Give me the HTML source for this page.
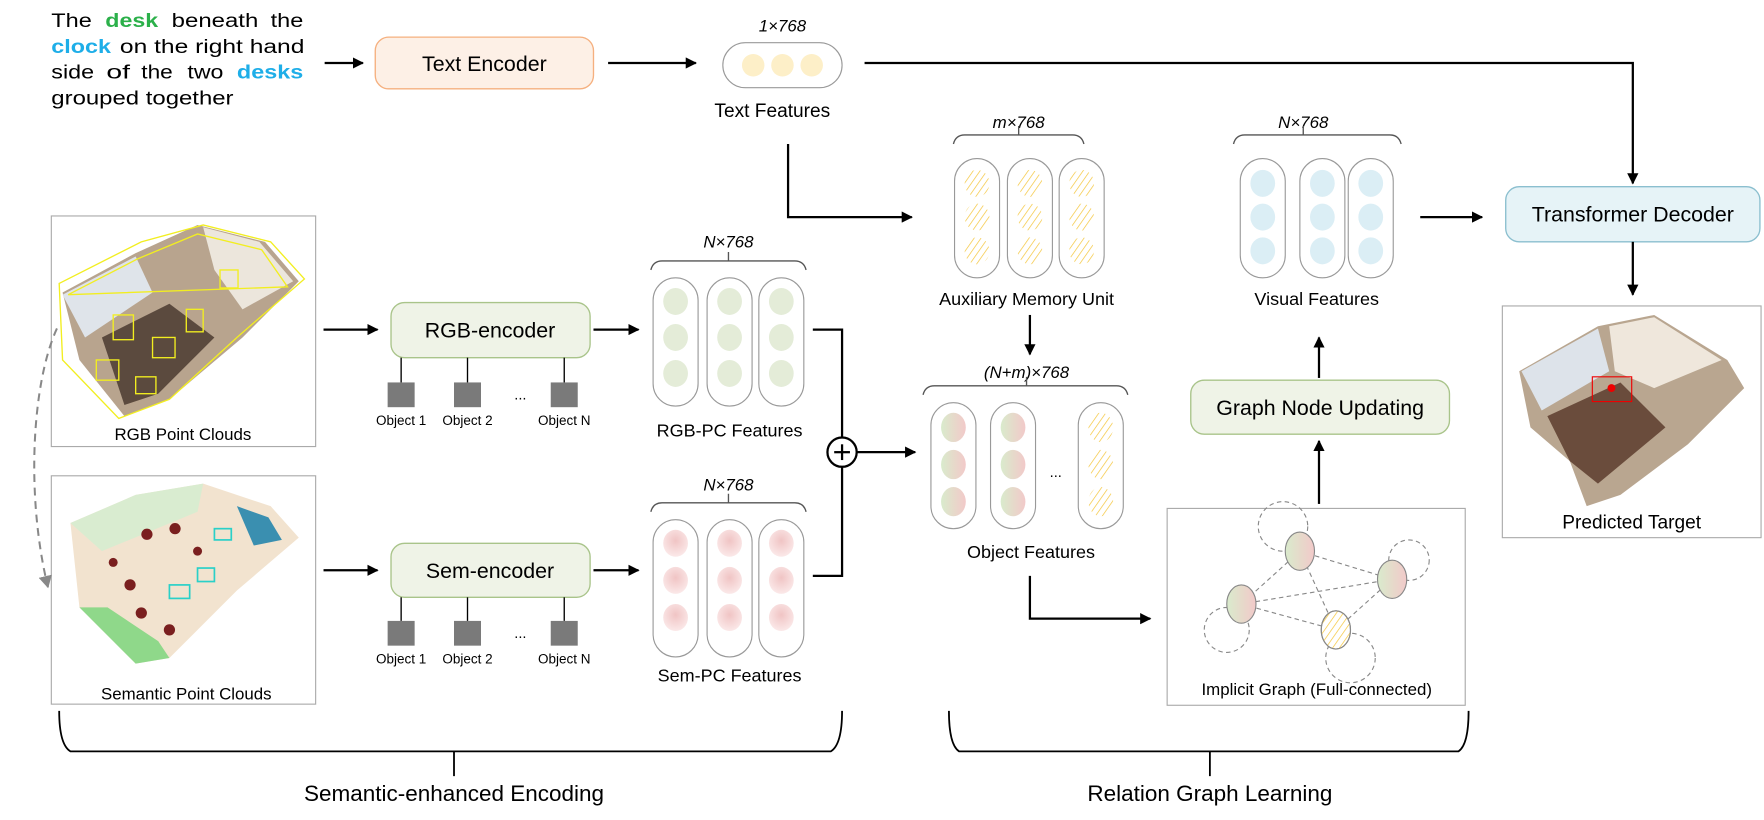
<!DOCTYPE html>
<html><head><meta charset="utf-8"><style>
html,body{margin:0;padding:0;background:#fff}
svg{display:block}
text{font-family:"Liberation Sans",Arial,sans-serif;fill:#000}
.it{font-style:italic}
</style></head><body>
<svg width="1764" height="820" viewBox="0 0 1567 729" xmlns="http://www.w3.org/2000/svg">
<defs>
<marker id="ah" markerWidth="10" markerHeight="10" refX="9" refY="5" orient="auto" markerUnits="userSpaceOnUse"><path d="M0,0 L10,5 L0,10 Z" fill="#000"/></marker>
<marker id="ahg" markerWidth="12" markerHeight="12" refX="10" refY="6" orient="auto" markerUnits="userSpaceOnUse"><path d="M0,0 L11,6 L0,12 Z" fill="#888"/></marker>
<pattern id="hatch" width="5" height="5" patternUnits="userSpaceOnUse" patternTransform="rotate(35)"><line x1="0" y1="0" x2="0" y2="5" stroke="#f5c842" stroke-width="1.3"/></pattern>
<linearGradient id="gr" x1="0" y1="0" x2="1" y2="0"><stop offset="0" stop-color="#d9ebcc"/><stop offset="1" stop-color="#f2c9c9"/></linearGradient>
<radialGradient id="pk" cx="0.5" cy="0.4" r="0.6"><stop offset="0" stop-color="#f0c4c4"/><stop offset="1" stop-color="#fbe9e9"/></radialGradient>
</defs>

<!-- input text -->
<g font-size="17" lengthAdjust="spacingAndGlyphs">
<text x="45" y="24" textLength="36" lengthAdjust="spacingAndGlyphs">The</text>
<text x="93" y="24" textLength="47" lengthAdjust="spacingAndGlyphs" fill="#2bb04a" font-weight="bold" style="fill:#2bb04a">desk</text>
<text x="152" y="24" textLength="77" lengthAdjust="spacingAndGlyphs">beneath</text>
<text x="240" y="24" textLength="29" lengthAdjust="spacingAndGlyphs">the</text>
<text x="45" y="47" textLength="53" lengthAdjust="spacingAndGlyphs" font-weight="bold" style="fill:#1eaee8">clock</text>
<text x="106" y="47" textLength="164" lengthAdjust="spacingAndGlyphs">on the right hand</text>
<text x="45" y="70" textLength="38" lengthAdjust="spacingAndGlyphs">side</text>
<text x="94" y="70" textLength="21" lengthAdjust="spacingAndGlyphs">of</text>
<text x="125" y="70" textLength="28" lengthAdjust="spacingAndGlyphs">the</text>
<text x="166" y="70" textLength="32" lengthAdjust="spacingAndGlyphs">two</text>
<text x="210" y="70" textLength="59" lengthAdjust="spacingAndGlyphs" font-weight="bold" style="fill:#1eaee8">desks</text>
<text x="45" y="93" textLength="162" lengthAdjust="spacingAndGlyphs">grouped together</text>
</g>
<line x1="288" y1="56" x2="322" y2="56" stroke="#000" stroke-width="2" marker-end="url(#ah)"/>
<rect x="333" y="33" width="194" height="46" rx="12" fill="#fdf0e6" stroke="#f5b07f" stroke-width="1.2"/>
<text x="430" y="63" font-size="19" text-anchor="middle">Text Encoder</text>
<line x1="540" y1="56" x2="618" y2="56" stroke="#000" stroke-width="2" marker-end="url(#ah)"/>
<text x="695" y="28" font-size="15" class="it" text-anchor="middle">1×768</text>
<rect x="642" y="38" width="106" height="40" rx="20" fill="#fff" stroke="#999" stroke-width="1"/>
<circle cx="669" cy="58" r="10" fill="#fdefc8"/><circle cx="695" cy="58" r="10" fill="#fdefc8"/><circle cx="721" cy="58" r="10" fill="#fdefc8"/>
<text x="686" y="104" font-size="17" text-anchor="middle">Text Features</text>
<polyline points="768,56 1451,56 1451,163" fill="none" stroke="#000" stroke-width="2" marker-end="url(#ah)"/>

<polyline points="700,128 700,193 810,193" fill="none" stroke="#000" stroke-width="2" marker-end="url(#ah)"/>

<!-- Transformer decoder -->
<rect x="1338" y="166" width="226" height="49" rx="12" fill="#e6f3f7" stroke="#8bbfcf" stroke-width="1.2"/>
<text x="1451" y="197" font-size="19" text-anchor="middle">Transformer Decoder</text>
<line x1="1451" y1="215" x2="1451" y2="262" stroke="#000" stroke-width="2" marker-end="url(#ah)"/>

<!-- predicted target -->
<rect x="1335" y="272" width="230" height="206" fill="#fff" stroke="#aaa" stroke-width="1"/>
<polygon points="1350,330 1420,290 1470,280 1535,320 1550,345 1500,395 1440,440 1410,450 1395,410 1360,380" fill="#b9a690"/>
<polygon points="1352,330 1420,292 1430,330 1370,365" fill="#dde3ea"/>
<polygon points="1430,290 1470,282 1530,320 1470,345 1435,330" fill="#efe7dc"/>
<polygon points="1375,370 1440,340 1480,380 1420,430 1395,410" fill="#6a4c3c"/>
<rect x="1415" y="335" width="35" height="22" fill="none" stroke="#e00" stroke-width="1"/>
<circle cx="1432" cy="345" r="3.5" fill="#e00"/>
<text x="1450" y="470" font-size="17" text-anchor="middle">Predicted Target</text>

<!-- RGB point clouds -->
<rect x="45" y="192" width="235" height="205" fill="#fff" stroke="#aaa" stroke-width="1"/>
<polygon points="55,260 120,225 175,200 235,215 265,250 215,300 150,355 110,370 70,320" fill="#b8a48e"/>
<polygon points="55,262 120,228 135,260 75,300" fill="#dfe4ea"/>
<polygon points="180,202 230,215 260,250 215,275 190,240" fill="#ece6dc"/>
<polygon points="90,300 150,270 190,300 140,350 110,360" fill="#5b4a3e"/>
<g fill="none" stroke="#f2ee20" stroke-width="1.2">
<polygon points="52,252 125,215 180,200 240,215 270,248 210,300 150,355 105,372 55,320"/>
<polygon points="60,262 122,230 175,208 232,222 255,255"/>
<rect x="100" y="280" width="18" height="22"/><rect x="135" y="300" width="20" height="18"/><rect x="165" y="275" width="15" height="20"/><rect x="85" y="320" width="20" height="18"/><rect x="195" y="240" width="16" height="16"/><rect x="120" y="335" width="18" height="15"/>
</g>
<text x="162" y="391" font-size="15" text-anchor="middle">RGB Point Clouds</text>

<!-- Semantic point clouds -->
<rect x="45" y="423" width="235" height="203" fill="#fff" stroke="#aaa" stroke-width="1"/>
<polygon points="62,465 120,440 180,430 240,450 265,478 210,525 150,585 120,590 70,540" fill="#f2e3cf"/>
<polygon points="62,465 120,440 180,430 175,455 90,490" fill="#d9ecd0"/>
<polygon points="210,450 238,460 250,480 225,485" fill="#3a8fb0"/>
<polygon points="70,540 120,590 150,585 140,570 95,540" fill="#8fd88a"/>
<g fill="#7a1f1f"><circle cx="130" cy="475" r="5"/><circle cx="155" cy="470" r="5"/><circle cx="115" cy="520" r="5"/><circle cx="125" cy="545" r="5"/><circle cx="150" cy="560" r="5"/><circle cx="175" cy="490" r="4"/><circle cx="100" cy="500" r="4"/></g>
<g fill="none" stroke="#2ad0c8" stroke-width="1.5"><rect x="150" y="520" width="18" height="12"/><rect x="175" y="505" width="15" height="12"/><rect x="190" y="470" width="15" height="10"/></g>
<text x="165" y="622" font-size="15" text-anchor="middle">Semantic Point Clouds</text>

<path d="M50,292 C28,340 22,440 42,522" fill="none" stroke="#888" stroke-width="1.8" stroke-dasharray="7,5" marker-end="url(#ahg)"/>

<!-- RGB encoder -->
<line x1="287" y1="293" x2="335" y2="293" stroke="#000" stroke-width="2" marker-end="url(#ah)"/>
<rect x="347" y="269" width="177" height="49" rx="12" fill="#eff3e7" stroke="#a9c48a" stroke-width="1.2"/>
<text x="435" y="300" font-size="19" text-anchor="middle">RGB-encoder</text>
<g stroke="#000" stroke-width="1.2"><line x1="356" y1="318" x2="356" y2="340"/><line x1="415" y1="318" x2="415" y2="340"/><line x1="501" y1="318" x2="501" y2="340"/></g>
<g fill="#7a7a7a"><rect x="344" y="340" width="24" height="22"/><rect x="403" y="340" width="24" height="22"/><rect x="489" y="340" width="24" height="22"/></g>
<text x="462" y="355" font-size="13" text-anchor="middle">...</text>
<g font-size="12" text-anchor="middle"><text x="356" y="378">Object 1</text><text x="415" y="378">Object 2</text><text x="501" y="378">Object N</text></g>
<line x1="527" y1="293" x2="567" y2="293" stroke="#000" stroke-width="2" marker-end="url(#ah)"/>

<!-- RGB-PC features -->
<text x="647" y="220" font-size="15" class="it" text-anchor="middle">N×768</text>
<path d="M578,240 Q580,232 588,232 L706,232 Q714,232 716,240 M647,232 L647,224" fill="none" stroke="#555" stroke-width="1.2"/>
<g fill="#fff" stroke="#999" stroke-width="1"><rect x="580" y="247" width="40" height="114" rx="20"/><rect x="628" y="247" width="40" height="114" rx="20"/><rect x="674" y="247" width="40" height="114" rx="20"/></g>
<g fill="#e4ecd8"><ellipse cx="600" cy="268" rx="11" ry="12"/><ellipse cx="600" cy="300" rx="11" ry="12"/><ellipse cx="600" cy="332" rx="11" ry="12"/><ellipse cx="648" cy="268" rx="11" ry="12"/><ellipse cx="648" cy="300" rx="11" ry="12"/><ellipse cx="648" cy="332" rx="11" ry="12"/><ellipse cx="694" cy="268" rx="11" ry="12"/><ellipse cx="694" cy="300" rx="11" ry="12"/><ellipse cx="694" cy="332" rx="11" ry="12"/></g>
<text x="648" y="388" font-size="16" text-anchor="middle">RGB-PC Features</text>

<!-- Sem encoder -->
<line x1="287" y1="507" x2="335" y2="507" stroke="#000" stroke-width="2" marker-end="url(#ah)"/>
<rect x="347" y="483" width="177" height="48" rx="12" fill="#eff3e7" stroke="#a9c48a" stroke-width="1.2"/>
<text x="435" y="514" font-size="19" text-anchor="middle">Sem-encoder</text>
<g stroke="#000" stroke-width="1.2"><line x1="356" y1="531" x2="356" y2="552"/><line x1="415" y1="531" x2="415" y2="552"/><line x1="501" y1="531" x2="501" y2="552"/></g>
<g fill="#7a7a7a"><rect x="344" y="552" width="24" height="22"/><rect x="403" y="552" width="24" height="22"/><rect x="489" y="552" width="24" height="22"/></g>
<text x="462" y="567" font-size="13" text-anchor="middle">...</text>
<g font-size="12" text-anchor="middle"><text x="356" y="590">Object 1</text><text x="415" y="590">Object 2</text><text x="501" y="590">Object N</text></g>
<line x1="527" y1="507" x2="567" y2="507" stroke="#000" stroke-width="2" marker-end="url(#ah)"/>

<!-- Sem-PC features -->
<text x="647" y="436" font-size="15" class="it" text-anchor="middle">N×768</text>
<path d="M578,455 Q580,447 588,447 L706,447 Q714,447 716,455 M647,447 L647,439" fill="none" stroke="#555" stroke-width="1.2"/>
<g fill="#fff" stroke="#999" stroke-width="1"><rect x="580" y="462" width="40" height="122" rx="20"/><rect x="628" y="462" width="40" height="122" rx="20"/><rect x="674" y="462" width="40" height="122" rx="20"/></g>
<g fill="url(#pk)"><ellipse cx="600" cy="483" rx="11" ry="12"/><ellipse cx="600" cy="516" rx="11" ry="12"/><ellipse cx="600" cy="549" rx="11" ry="12"/><ellipse cx="648" cy="483" rx="11" ry="12"/><ellipse cx="648" cy="516" rx="11" ry="12"/><ellipse cx="648" cy="549" rx="11" ry="12"/><ellipse cx="694" cy="483" rx="11" ry="12"/><ellipse cx="694" cy="516" rx="11" ry="12"/><ellipse cx="694" cy="549" rx="11" ry="12"/></g>
<text x="648" y="606" font-size="16" text-anchor="middle">Sem-PC Features</text>

<!-- plus -->
<polyline points="722,293 748,293 748,389" fill="none" stroke="#000" stroke-width="2"/>
<polyline points="722,512 748,512 748,415" fill="none" stroke="#000" stroke-width="2"/>
<circle cx="748" cy="402" r="13" fill="#fff" stroke="#000" stroke-width="2"/>
<line x1="741" y1="402" x2="755" y2="402" stroke="#000" stroke-width="2"/><line x1="748" y1="395" x2="748" y2="409" stroke="#000" stroke-width="2"/>
<line x1="761" y1="402" x2="813" y2="402" stroke="#000" stroke-width="2" marker-end="url(#ah)"/>

<!-- aux memory -->
<text x="905" y="114" font-size="15" class="it" text-anchor="middle">m×768</text>
<path d="M847,128 Q849,120 857,120 L953,120 Q961,120 963,128 M905,120 L905,112" fill="none" stroke="#555" stroke-width="1.2"/>
<g fill="#fff" stroke="#999" stroke-width="1"><rect x="848" y="141" width="40" height="106" rx="20"/><rect x="895" y="141" width="40" height="106" rx="20"/><rect x="941" y="141" width="40" height="106" rx="20"/></g>
<g fill="url(#hatch)"><ellipse cx="868" cy="163" rx="11" ry="12"/><ellipse cx="868" cy="193" rx="11" ry="12"/><ellipse cx="868" cy="223" rx="11" ry="12"/><ellipse cx="915" cy="163" rx="11" ry="12"/><ellipse cx="915" cy="193" rx="11" ry="12"/><ellipse cx="915" cy="223" rx="11" ry="12"/><ellipse cx="961" cy="163" rx="11" ry="12"/><ellipse cx="961" cy="193" rx="11" ry="12"/><ellipse cx="961" cy="223" rx="11" ry="12"/></g>
<text x="912" y="271" font-size="16" text-anchor="middle">Auxiliary Memory Unit</text>
<line x1="915" y1="280" x2="915" y2="315" stroke="#000" stroke-width="2" marker-end="url(#ah)"/>

<!-- object features -->
<text x="912" y="336" font-size="15" class="it" text-anchor="middle">(N+m)×768</text>
<path d="M820,351 Q822,343 830,343 L992,343 Q1000,343 1002,351 M912,343 L912,335" fill="none" stroke="#555" stroke-width="1.2"/>
<g fill="#fff" stroke="#999" stroke-width="1"><rect x="827" y="358" width="40" height="112" rx="20"/><rect x="880" y="358" width="40" height="112" rx="20"/><rect x="958" y="358" width="40" height="112" rx="20"/></g>
<g fill="url(#gr)"><ellipse cx="847" cy="380" rx="11" ry="13"/><ellipse cx="847" cy="413" rx="11" ry="13"/><ellipse cx="847" cy="446" rx="11" ry="13"/><ellipse cx="900" cy="380" rx="11" ry="13"/><ellipse cx="900" cy="413" rx="11" ry="13"/><ellipse cx="900" cy="446" rx="11" ry="13"/></g>
<g fill="url(#hatch)"><ellipse cx="978" cy="380" rx="11" ry="13"/><ellipse cx="978" cy="413" rx="11" ry="13"/><ellipse cx="978" cy="446" rx="11" ry="13"/></g>
<text x="938" y="424" font-size="13" text-anchor="middle">...</text>
<text x="916" y="496" font-size="16" text-anchor="middle">Object Features</text>
<polyline points="915,512 915,550 1022,550" fill="none" stroke="#000" stroke-width="2" marker-end="url(#ah)"/>

<!-- implicit graph -->
<rect x="1037" y="452" width="265" height="175" fill="#fff" stroke="#aaa" stroke-width="1"/>
<g fill="none" stroke="#888" stroke-width="1" stroke-dasharray="4,3">
<circle cx="1140" cy="468" r="22"/><circle cx="1252" cy="498" r="18"/><circle cx="1090" cy="560" r="20"/><circle cx="1200" cy="585" r="22"/>
<line x1="1155" y1="490" x2="1237" y2="515"/><line x1="1155" y1="490" x2="1103" y2="537"/><line x1="1155" y1="490" x2="1187" y2="560"/><line x1="1237" y1="515" x2="1103" y2="537"/><line x1="1237" y1="515" x2="1187" y2="560"/><line x1="1103" y1="537" x2="1187" y2="560"/>
</g>
<g stroke="#888" stroke-width="1"><ellipse cx="1155" cy="490" rx="13" ry="17" fill="url(#gr)"/><ellipse cx="1237" cy="515" rx="13" ry="17" fill="url(#gr)"/><ellipse cx="1103" cy="537" rx="13" ry="17" fill="url(#gr)"/><ellipse cx="1187" cy="560" rx="13" ry="17" fill="#fff"/><ellipse cx="1187" cy="560" rx="13" ry="17" fill="url(#hatch)"/></g>
<text x="1170" y="618" font-size="15" text-anchor="middle">Implicit Graph (Full-connected)</text>
<line x1="1172" y1="448" x2="1172" y2="392" stroke="#000" stroke-width="2" marker-end="url(#ah)"/>

<!-- graph node updating -->
<rect x="1058" y="338" width="230" height="48" rx="12" fill="#eff3e7" stroke="#a9c48a" stroke-width="1.2"/>
<text x="1173" y="369" font-size="19" text-anchor="middle">Graph Node Updating</text>
<line x1="1172" y1="336" x2="1172" y2="300" stroke="#000" stroke-width="2" marker-end="url(#ah)"/>

<!-- visual features -->
<text x="1158" y="114" font-size="15" class="it" text-anchor="middle">N×768</text>
<path d="M1096,128 Q1098,120 1106,120 L1235,120 Q1243,120 1245,128 M1158,120 L1158,112" fill="none" stroke="#555" stroke-width="1.2"/>
<g fill="#fff" stroke="#999" stroke-width="1"><rect x="1102" y="141" width="40" height="106" rx="20"/><rect x="1155" y="141" width="40" height="106" rx="20"/><rect x="1198" y="141" width="40" height="106" rx="20"/></g>
<g fill="#dbeef5"><ellipse cx="1122" cy="163" rx="11" ry="12"/><ellipse cx="1122" cy="193" rx="11" ry="12"/><ellipse cx="1122" cy="223" rx="11" ry="12"/><ellipse cx="1175" cy="163" rx="11" ry="12"/><ellipse cx="1175" cy="193" rx="11" ry="12"/><ellipse cx="1175" cy="223" rx="11" ry="12"/><ellipse cx="1218" cy="163" rx="11" ry="12"/><ellipse cx="1218" cy="193" rx="11" ry="12"/><ellipse cx="1218" cy="223" rx="11" ry="12"/></g>
<text x="1170" y="271" font-size="16" text-anchor="middle">Visual Features</text>
<line x1="1262" y1="193" x2="1317" y2="193" stroke="#000" stroke-width="2" marker-end="url(#ah)"/>

<!-- bottom braces -->
<path d="M52,632 Q52,662 62,668 L738,668 Q748,662 748,632 M403,668 L403,690" fill="none" stroke="#000" stroke-width="1.6"/>
<path d="M843,632 Q843,662 852,668 L1296,668 Q1305,662 1305,632 M1075,668 L1075,690" fill="none" stroke="#000" stroke-width="1.6"/>
<text x="403" y="712" font-size="20" text-anchor="middle">Semantic-enhanced Encoding</text>
<text x="1075" y="712" font-size="20" text-anchor="middle">Relation Graph Learning</text>
</svg>
</body></html>
